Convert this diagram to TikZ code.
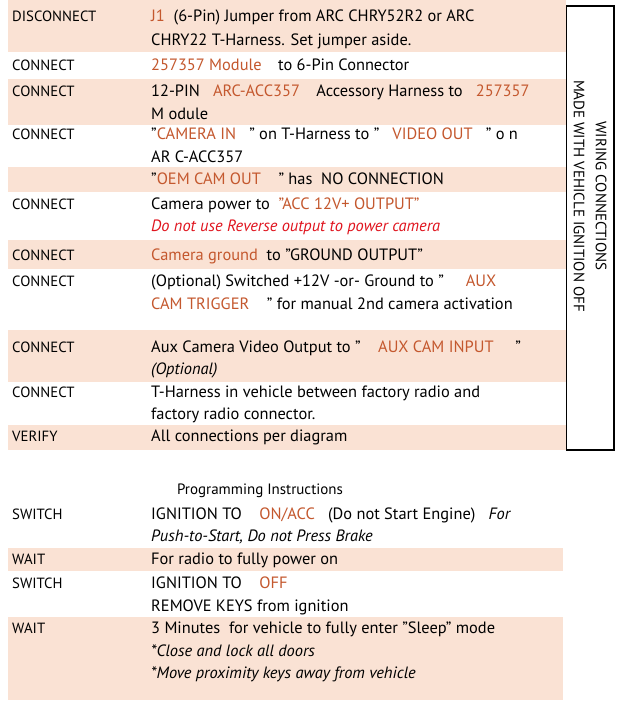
\documentclass[tikz,border=0pt]{standalone}
\usepackage{fontspec}
\setmainfont[Ligatures=NoCommon]{PT Sans}
\definecolor{shade}{RGB}{250,226,212}
\definecolor{org}{RGB}{196,88,46}
\definecolor{warn}{RGB}{224,20,30}
\newcommand\orn[1]{\textcolor{org}{#1}}
\newcommand\qq{\symbol{34}}
\begin{document}
\begin{tikzpicture}[x=1pt,y=-1pt,
  lab/.style={anchor=base west,inner sep=0pt,font=\fontsize{14.8}{16}\selectfont},
  txt/.style={anchor=base west,inner sep=0pt,font=\fontsize{16.4}{18}\selectfont},
  band/.style={fill=shade,draw=none}]
\useasboundingbox (0,0) rectangle (621,708);
\fill[white] (0,0) rectangle (621,708);
% bands
\foreach \a/\b in {0/52,79/125,167/192,240/269,330/382,425/450}
  \fill[band] (8,\a) rectangle (566,\b);
\foreach \a/\b in {548/571,617/700}
  \fill[band] (8,\a) rectangle (563,\b);
% bracket
\draw[line width=1.6pt] (566,6) -- (614,6) -- (614,450) -- (566,450);
\draw[line width=0.8pt] (566,6) -- (566,450);
\node[rotate=-90,align=center,font=\fontsize{15}{22}\selectfont,inner sep=0pt] (side) at (590,196)
  {WIRING CONNECTIONS\\MADE WITH VEHICLE IGNITION OFF};
% rows
\node[lab] (l1) at (12,22) {DISCONNECT};
\node[txt] (t1a) at (151,22) {\orn{J1}\ \ (6-Pin) Jumper from ARC CHRY52R2 or ARC};
\node[txt] (t1b) at (151,46) {CHRY22 T-Harness. Set jumper aside.};
\node[lab] (l2) at (12,71) {CONNECT};
\node[txt] (t2) at (151,71) {\orn{257357 Module}\quad to 6-Pin Connector};
\node[lab] (l3) at (12,97) {CONNECT};
\node[txt] (t3a) at (151,97) {12-PIN\ \ \ \orn{ARC-ACC357}\quad Accessory Harness to\ \ \ \orn{257357}};
\node[txt] (t3b) at (151,120) {M odule};
\node[lab] (l4) at (12,140) {CONNECT};
\node[txt] (t4a) at (151,140) {\qq\orn{CAMERA IN}\ \ \ \qq\ on T-Harness to \qq\ \ \ \orn{VIDEO OUT}\ \ \ \qq\ o n};
\node[txt] (t4b) at (151,163) {AR C-ACC357};
\node[txt] (t5) at (151,185) {\qq\orn{OEM CAM OUT}\ \ \ \ \qq\ has\ \ NO CONNECTION};
\node[lab] (l6) at (12,210) {CONNECT};
\node[txt] (t6a) at (151,210) {Camera power to\ \ \orn{\qq ACC 12V+ OUTPUT\qq}};
\node[txt] (t6b) at (151,232) {\textcolor{warn}{\itshape Do not use Reverse output to power camera}};
\node[lab] (l7) at (12,260) {CONNECT};
\node[txt] (t7) at (151,260) {\orn{Camera ground}\ \ to \qq GROUND OUTPUT\qq};
\node[lab] (l8) at (12,286) {CONNECT};
\node[txt] (t8a) at (151,286) {(Optional) Switched +12V -or- Ground to \qq\ \ \ \ \ \orn{AUX}};
\node[txt] (t8b) at (151,309) {\orn{CAM TRIGGER}\ \ \ \ \qq\ for manual 2nd camera activation};
\node[lab] (l9) at (12,352) {CONNECT};
\node[txt] (t9a) at (151,352) {Aux Camera Video Output to \qq\ \ \ \ \orn{AUX CAM INPUT}\ \ \ \ \ \qq};
\node[txt] (t9b) at (151,374) {\itshape (Optional)};
\node[lab] (l10) at (12,397) {CONNECT};
\node[txt] (t10a) at (151,397) {T-Harness in vehicle between factory radio and};
\node[txt] (t10b) at (151,419) {factory radio connector.};
\node[lab] (l11) at (12,441) {VERIFY};
\node[txt] (t11) at (151,441) {All connections per diagram};
% programming
\node[anchor=base,inner sep=0pt,font=\fontsize{15}{16}\selectfont] (ptitle) at (260,494) {Programming Instructions};
\node[lab] (p1) at (12,519) {SWITCH};
\node[txt] (q1a) at (151,519) {IGNITION TO\ \ \ \ \orn{ON/ACC}\ \ \ (Do not Start Engine)\ \ \ \textit{For}};
\node[txt] (q1b) at (151,541) {\itshape Push-to-Start, Do not Press Brake};
\node[lab] (p2) at (12,564) {WAIT};
\node[txt] (q2) at (151,564) {For radio to fully power on};
\node[lab] (p3) at (12,588) {SWITCH};
\node[txt] (q3a) at (151,588) {IGNITION TO\ \ \ \ \orn{OFF}};
\node[txt] (q3b) at (151,611) {REMOVE KEYS from ignition};
\node[lab] (p4) at (12,633) {WAIT};
\node[txt] (q4a) at (151,633) {3 Minutes\ \ for vehicle to fully enter \qq Sleep\qq\ mode};
\node[txt] (q4b) at (151,656) {\itshape *Close and lock all doors};
\node[txt] (q4c) at (151,678) {\itshape *Move proximity keys away from vehicle};
\end{tikzpicture}
\end{document}
